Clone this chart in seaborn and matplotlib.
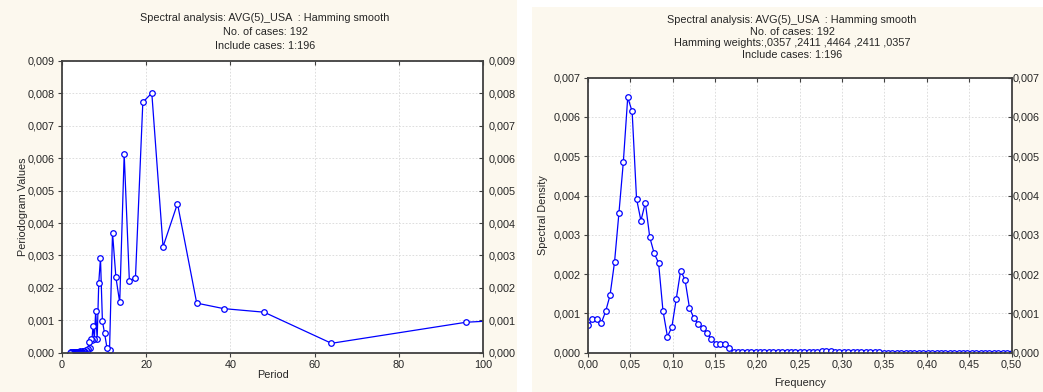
import numpy as np
import pandas as pd
import matplotlib
matplotlib.use("Agg")
import matplotlib.pyplot as plt
from matplotlib.lines import TICKLEFT, TICKDOWN
from matplotlib.patches import Rectangle
from matplotlib.ticker import FuncFormatter
from matplotlib.transforms import ScaledTranslation
import seaborn as sns

# periodogram: period = 192 / k, k = 1..96
PERIOD = [192.00, 96.00, 64.00, 48.00, 38.40, 32.00, 27.43, 24.00, 21.33, 19.20,
          17.45, 16.00, 14.77, 13.71, 12.80, 12.00, 11.29, 10.67, 10.11, 9.60,
          9.14, 8.73, 8.35, 8.00, 7.68, 7.38, 7.11, 6.86, 6.62, 6.40,
          6.19, 6.00, 5.82, 5.65, 5.49, 5.33, 5.19, 5.05, 4.92, 4.80,
          4.68, 4.57, 4.47, 4.36, 4.27, 4.17, 4.09, 4.00, 3.92, 3.84,
          3.76, 3.69, 3.62, 3.56, 3.49, 3.43, 3.37, 3.31, 3.25, 3.20,
          3.15, 3.10, 3.05, 3.00, 2.95, 2.91, 2.87, 2.82, 2.78, 2.74,
          2.70, 2.67, 2.63, 2.59, 2.56, 2.53, 2.49, 2.46, 2.43, 2.40,
          2.37, 2.34, 2.31, 2.29, 2.26, 2.23, 2.21, 2.18, 2.16, 2.13,
          2.11, 2.09, 2.06, 2.04, 2.02, 2.00]

PERIODOGRAM = [0.00160, 0.00094, 0.00029, 0.00125, 0.00136, 0.00153, 0.00460, 0.00327, 0.00801, 0.00773,
               0.00231, 0.00222, 0.00613, 0.00155, 0.00233, 0.00370, 0.00007, 0.00016, 0.00060, 0.00097,
               0.00292, 0.00216, 0.00041, 0.00129, 0.00041, 0.00083, 0.00040, 0.00042, 0.00014, 0.00033,
               0.00012, 0.00006, 0.00004, 0.00008, 0.00003, 0.00005, 0.00002, 0.00004, 0.00006, 0.00003,
               0.00002, 0.00003, 0.00001, 0.00002, 0.00004, 0.00002, 0.00001, 0.00003, 0.00002, 0.00001,
               0.00002, 0.00001, 0.00001, 0.00002, 0.00001, 0.00000, 0.00001, 0.00002, 0.00001, 0.00001,
               0.00000, 0.00001, 0.00001, 0.00000, 0.00001, 0.00001, 0.00000, 0.00001, 0.00000, 0.00001,
               0.00000, 0.00001, 0.00000, 0.00000, 0.00001, 0.00000, 0.00000, 0.00001, 0.00000, 0.00000,
               0.00000, 0.00001, 0.00000, 0.00000, 0.00000, 0.00001, 0.00000, 0.00000, 0.00000, 0.00000,
               0.00001, 0.00000, 0.00000, 0.00000, 0.00000, 0.00000]

# spectral density: frequency = k / 192, k = 0..96
FREQUENCY = [0.0000, 0.0052, 0.0104, 0.0156, 0.0208, 0.0260, 0.0313, 0.0365, 0.0417, 0.0469,
             0.0521, 0.0573, 0.0625, 0.0677, 0.0729, 0.0781, 0.0833, 0.0885, 0.0938, 0.0990,
             0.1042, 0.1094, 0.1146, 0.1198, 0.1250, 0.1302, 0.1354, 0.1406, 0.1458, 0.1510,
             0.1563, 0.1615, 0.1667, 0.1719, 0.1771, 0.1823, 0.1875, 0.1927, 0.1979, 0.2031,
             0.2083, 0.2135, 0.2188, 0.2240, 0.2292, 0.2344, 0.2396, 0.2448, 0.2500, 0.2552,
             0.2604, 0.2656, 0.2708, 0.2760, 0.2813, 0.2865, 0.2917, 0.2969, 0.3021, 0.3073,
             0.3125, 0.3177, 0.3229, 0.3281, 0.3333, 0.3385, 0.3438, 0.3490, 0.3542, 0.3594,
             0.3646, 0.3698, 0.3750, 0.3802, 0.3854, 0.3906, 0.3958, 0.4010, 0.4063, 0.4115,
             0.4167, 0.4219, 0.4271, 0.4323, 0.4375, 0.4427, 0.4479, 0.4531, 0.4583, 0.4635,
             0.4688, 0.4740, 0.4792, 0.4844, 0.4896, 0.4948, 0.5000]

DENSITY = [0.00070, 0.00085, 0.00085, 0.00075, 0.00105, 0.00146, 0.00230, 0.00355, 0.00485, 0.00650,
           0.00614, 0.00392, 0.00336, 0.00382, 0.00294, 0.00253, 0.00229, 0.00107, 0.00041, 0.00065,
           0.00137, 0.00209, 0.00185, 0.00114, 0.00088, 0.00073, 0.00063, 0.00049, 0.00034, 0.00023,
           0.00022, 0.00023, 0.00013, 0.00003, 0.000012, 0.000010, 0.000008, 0.000009, 0.000011, 0.000010,
           0.000012, 0.000015, 0.000014, 0.000016, 0.000018, 0.000020, 0.000024, 0.000027, 0.000030, 0.000028,
           0.000025, 0.000022, 0.000026, 0.000031, 0.000034, 0.000033, 0.000029, 0.000024, 0.000019, 0.000014,
           0.000011, 0.000009, 0.000008, 0.000007, 0.000007, 0.000006, 0.000006, 0.000005, 0.000005, 0.000005,
           0.000004, 0.000004, 0.000004, 0.000004, 0.000003, 0.000003, 0.000003, 0.000003, 0.000003, 0.000003,
           0.000003, 0.000003, 0.000003, 0.000002, 0.000002, 0.000002, 0.000002, 0.000002, 0.000002, 0.000002,
           0.000002, 0.000002, 0.000002, 0.000002, 0.000002, 0.000002, 0.000002]

LEFT_TITLE = ["Spectral analysis: AVG(5)_USA  : Hamming smooth",
              "No. of cases: 192",
              "Include cases: 1:196"]
RIGHT_TITLE = ["Spectral analysis: AVG(5)_USA  : Hamming smooth",
               "No. of cases: 192",
               "Hamming weights:,0357 ,2411 ,4464 ,2411 ,0357",
               "Include cases: 1:196"]

sns.set_style("white")
plt.rcParams['font.family'] = ['Liberation Sans', 'DejaVu Sans']
FS = 7.8
plt.rcParams['font.size'] = FS

CREAM = '#fcf8ee'
BLUE = '#0000ff'

fig = plt.figure(figsize=(10.43, 3.92), dpi=100, facecolor='white')
W, H = 1043, 392
# two separate cream panels
fig.patches.append(Rectangle((0, 0), 517 / W, 1, transform=fig.transFigure,
                             facecolor=CREAM, edgecolor='none', zorder=-10))
fig.patches.append(Rectangle((532 / W, 0), (W - 532) / W, (H - 7) / H, transform=fig.transFigure,
                             facecolor=CREAM, edgecolor='none', zorder=-10))

ax1 = fig.add_axes([62 / W, 1 - 352.7 / H, (483 - 62) / W, (352.7 - 61) / H])
ax2 = fig.add_axes([588 / W, 1 - 352.7 / H, (1011.5 - 588) / W, (352.7 - 77.7) / H])

left = pd.DataFrame({'Period': PERIOD, 'Periodogram Values': PERIODOGRAM})
right = pd.DataFrame({'Frequency': FREQUENCY, 'Spectral Density': DENSITY})

line_kw = dict(marker='o', markersize=4, markerfacecolor='white', markeredgecolor=BLUE,
               markeredgewidth=0.9, color=BLUE, linewidth=0.9, sort=False, estimator=None)
sns.lineplot(data=left, x='Period', y='Periodogram Values', ax=ax1, **line_kw)
sns.lineplot(data=right, x='Frequency', y='Spectral Density', ax=ax2, **line_kw)

comma3 = FuncFormatter(lambda v, p: f"{v:.3f}".replace('.', ','))
comma2 = FuncFormatter(lambda v, p: f"{v:.2f}".replace('.', ','))

ax1.set_xlim(0, 100)
ax1.set_ylim(0, 0.009)
ax1.set_xticks([0, 20, 40, 60, 80, 100])
ax1.set_yticks(np.arange(0, 0.0091, 0.001))
ax1.yaxis.set_major_formatter(comma3)

ax2.set_xlim(0, 0.5)
ax2.set_ylim(0, 0.007)
ax2.set_xticks(np.arange(0, 0.501, 0.05))
ax2.set_yticks(np.arange(0, 0.0071, 0.001))
ax2.xaxis.set_major_formatter(comma2)
ax2.yaxis.set_major_formatter(comma3)

for ax, rpx in ((ax1, 6), (ax2, 1.5)):
    ax.set_facecolor('white')
    ax.grid(True, color='#d8d8d8', linestyle=(0, (2, 2)), linewidth=0.6)
    ax.tick_params(axis='both', labelsize=FS, length=3, width=0.8, color='#404040',
                   pad=2, direction='out')
    ax.xaxis.set_ticks_position('both')
    ax.yaxis.set_ticks_position('both')
    ax.tick_params(axis='y', labelright=True)
    for s in ax.spines.values():
        s.set_color('#404040')
        s.set_linewidth(1.3)
    # ticks on the right and top point inward, right labels sit close to the spine
    off = ScaledTranslation(rpx / 100, 0, fig.dpi_scale_trans)
    for t in ax.yaxis.get_major_ticks():
        t.tick2line.set_marker(TICKLEFT)
        t.label2.set_transform(ax.get_yaxis_transform() + off)
        t.label2.set_ha('left')
    for t in ax.xaxis.get_major_ticks():
        t.tick2line.set_marker(TICKDOWN)

ax1.set_xlabel('Period', fontsize=FS)
ax1.set_ylabel('Periodogram Values', fontsize=FS)
ax2.set_xlabel('Frequency', fontsize=FS)
ax2.set_ylabel('Spectral Density', fontsize=FS)
ax1.xaxis.set_label_coords(0.5, (352.7 - 370.5) / 291.7)
ax2.xaxis.set_label_coords(0.5, (352.7 - 378.5) / 275.0)
ax1.yaxis.set_label_coords((28 - 62) / 421, 0.5)
ax2.yaxis.set_label_coords((548 - 588) / 423.5, 0.5)

for txt, y in zip(LEFT_TITLE, [18.3, 32.0, 46.3]):
    fig.text(265 / W, 1 - y / H, txt, ha='center', va='center', fontsize=FS)
for txt, y in zip(RIGHT_TITLE, [20.0, 31.7, 43.4, 55.1]):
    fig.text(792 / W, 1 - y / H, txt, ha='center', va='center', fontsize=FS)

fig.savefig('out.png', dpi=100, facecolor=fig.get_facecolor())
